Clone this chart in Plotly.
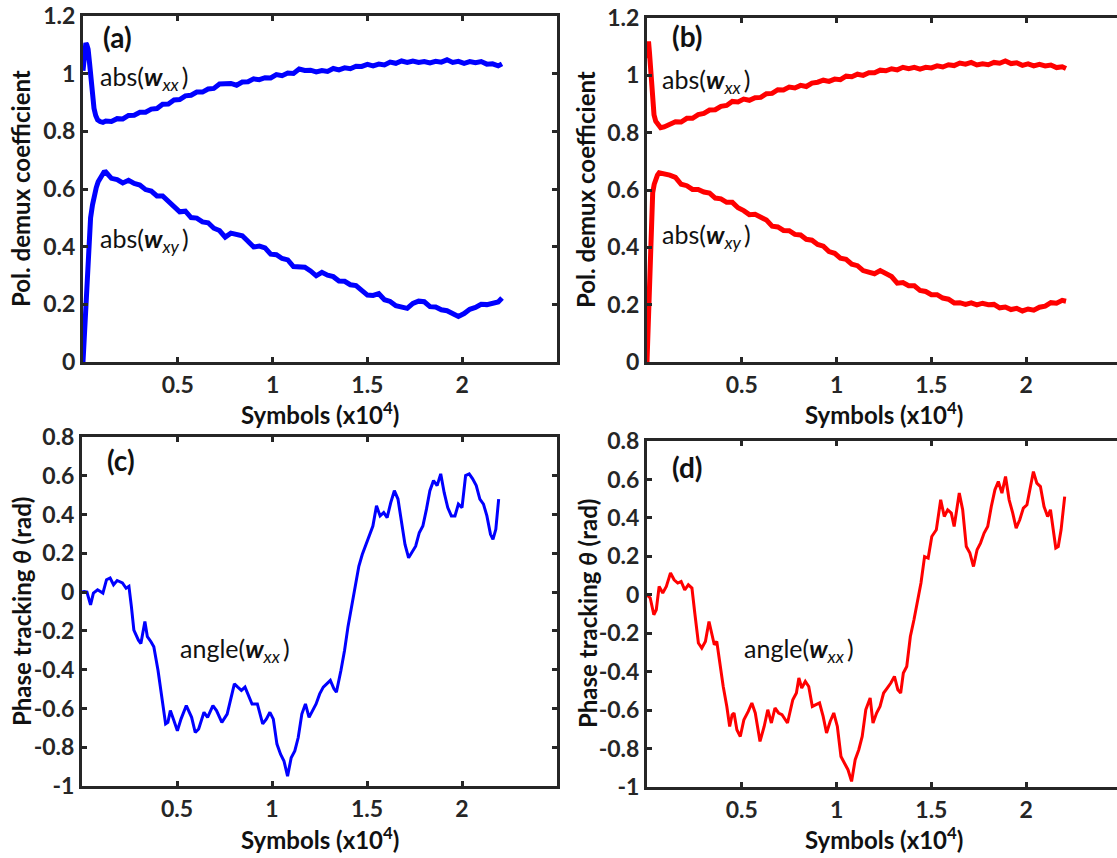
import plotly.graph_objects as go

W, H = 1117, 858
FONT = "Lato"
INK = "#262626"
BLUE = "#0000FF"
RED = "#FF0000"

# ---------------- panel (a): blue equaliser, |w_xx| and |w_xy| ----------------
a_xx_head_x = [0, 0.005, 0.01, 0.015, 0.02, 0.027, 0.034, 0.042, 0.05, 0.058, 0.067, 0.077, 0.09, 0.105]
a_xx_head_y = [1.01, 1.06, 1.095, 1.106, 1.1, 1.085, 1.04, 0.97, 0.915, 0.88, 0.855, 0.84, 0.834, 0.831]
a_xy_head_x = [0, 0.005, 0.01, 0.015, 0.02, 0.03, 0.04, 0.05, 0.06, 0.07, 0.08, 0.09, 0.1, 0.11]
a_xy_head_y = [0.0, 0.07, 0.15, 0.22, 0.29, 0.42, 0.50, 0.545, 0.58, 0.605, 0.625, 0.638, 0.648, 0.658]

# common sample positions (x10^4 symbols) after the start-up transient
tail_x = [
    0.12, 0.15, 0.18, 0.21, 0.24, 0.27, 0.30, 0.33, 0.36, 0.39,
    0.42, 0.45, 0.48, 0.51, 0.54, 0.57, 0.60, 0.63, 0.66, 0.69,
    0.72, 0.75, 0.78, 0.81, 0.84, 0.87, 0.90, 0.93, 0.96, 0.99,
    1.02, 1.05, 1.08, 1.11, 1.14, 1.17, 1.20, 1.23, 1.26, 1.29,
    1.32, 1.35, 1.38, 1.41, 1.44, 1.47, 1.50, 1.53, 1.56, 1.59,
    1.62, 1.65, 1.68, 1.71, 1.74, 1.77, 1.80, 1.83, 1.86, 1.89,
    1.92, 1.95, 1.98, 2.01, 2.04, 2.07, 2.10, 2.13, 2.16, 2.19,
    2.21,
]
a_xx_tail = [
    0.836, 0.834, 0.844, 0.843, 0.855, 0.856, 0.866, 0.866, 0.877, 0.879,
    0.894, 0.895, 0.909, 0.910, 0.923, 0.925, 0.936, 0.936, 0.947, 0.949,
    0.964, 0.965, 0.966, 0.960, 0.971, 0.972, 0.982, 0.979, 0.986, 0.985,
    0.997, 0.993, 1.002, 1.001, 1.016, 1.011, 1.012, 1.006, 1.011, 1.008,
    1.018, 1.013, 1.020, 1.017, 1.026, 1.025, 1.032, 1.027, 1.033, 1.030,
    1.040, 1.036, 1.044, 1.039, 1.044, 1.039, 1.042, 1.037, 1.043, 1.040,
    1.048, 1.039, 1.043, 1.036, 1.042, 1.038, 1.042, 1.033, 1.034, 1.027,
    1.034,
]
a_xy_tail = [
    0.659, 0.637, 0.633, 0.621, 0.630, 0.619, 0.614, 0.598, 0.593, 0.576,
    0.576, 0.557, 0.544, 0.521, 0.523, 0.501, 0.499, 0.486, 0.483, 0.464,
    0.456, 0.433, 0.447, 0.444, 0.438, 0.419, 0.399, 0.402, 0.396, 0.374,
    0.372, 0.359, 0.354, 0.331, 0.329, 0.329, 0.316, 0.299, 0.311, 0.301,
    0.296, 0.281, 0.280, 0.268, 0.265, 0.249, 0.232, 0.231, 0.237, 0.216,
    0.210, 0.195, 0.190, 0.186, 0.203, 0.211, 0.209, 0.192, 0.191, 0.181,
    0.178, 0.167, 0.158, 0.168, 0.183, 0.189, 0.200, 0.199, 0.204, 0.208,
    0.222,
]

# ---------------- panel (b): red equaliser, |w_xx| and |w_xy| ----------------
b_xx_head_x = [0, 0.004, 0.008, 0.013, 0.018, 0.024, 0.03, 0.037, 0.046, 0.058, 0.072, 0.09, 0.105]
b_xx_head_y = [1.06, 1.1, 1.118, 1.08, 1.02, 0.95, 0.895, 0.862, 0.84, 0.826, 0.817, 0.82, 0.824]
b_xy_head_x = [0, 0.005, 0.01, 0.017, 0.024, 0.03, 0.038, 0.045, 0.055, 0.064, 0.08, 0.1]
b_xy_head_y = [0.0, 0.1, 0.25, 0.45, 0.55, 0.59, 0.62, 0.638, 0.652, 0.66, 0.658, 0.656]
b_xx_tail = [
    0.827, 0.838, 0.837, 0.850, 0.850, 0.863, 0.867, 0.879, 0.880, 0.892,
    0.895, 0.909, 0.907, 0.917, 0.913, 0.922, 0.923, 0.936, 0.937, 0.950,
    0.949, 0.959, 0.956, 0.965, 0.961, 0.973, 0.976, 0.983, 0.979, 0.987,
    0.985, 0.997, 0.995, 1.004, 1.000, 1.009, 1.009, 1.018, 1.016, 1.023,
    1.019, 1.028, 1.023, 1.028, 1.022, 1.028, 1.026, 1.033, 1.029, 1.037,
    1.034, 1.043, 1.039, 1.045, 1.036, 1.040, 1.037, 1.045, 1.042, 1.050,
    1.041, 1.044, 1.035, 1.040, 1.033, 1.038, 1.033, 1.036, 1.027, 1.030,
    1.024,
]
b_xy_tail = [
    0.652, 0.644, 0.620, 0.615, 0.602, 0.602, 0.593, 0.589, 0.572, 0.569,
    0.557, 0.557, 0.538, 0.528, 0.514, 0.515, 0.505, 0.495, 0.474, 0.471,
    0.459, 0.458, 0.445, 0.443, 0.428, 0.425, 0.410, 0.404, 0.385, 0.379,
    0.362, 0.358, 0.341, 0.336, 0.319, 0.315, 0.308, 0.319, 0.310, 0.298,
    0.275, 0.277, 0.266, 0.266, 0.250, 0.246, 0.235, 0.235, 0.223, 0.219,
    0.206, 0.207, 0.201, 0.206, 0.199, 0.205, 0.200, 0.201, 0.189, 0.192,
    0.183, 0.187, 0.178, 0.185, 0.181, 0.191, 0.195, 0.207, 0.205, 0.215,
    0.212,
]

# ---------------- panel (c): blue phase tracking angle(w_xx) ----------------
c_x = [
    0, 0.011, 0.026, 0.045, 0.06, 0.082, 0.11, 0.129, 0.148, 0.166,
    0.185, 0.213, 0.232, 0.247, 0.26, 0.273, 0.297, 0.31, 0.331, 0.344,
    0.363, 0.378, 0.40, 0.419, 0.44, 0.452, 0.465, 0.484, 0.502, 0.521,
    0.549, 0.577, 0.596, 0.614, 0.642, 0.661, 0.689, 0.708, 0.736, 0.764,
    0.783, 0.802, 0.82, 0.839, 0.858, 0.877, 0.895, 0.923, 0.951, 0.97,
    0.989, 1.007, 1.026, 1.045, 1.063, 1.082, 1.101, 1.12, 1.138, 1.157,
    1.176, 1.195, 1.213, 1.232, 1.251, 1.27, 1.288, 1.307, 1.326, 1.339,
    1.363, 1.382, 1.40, 1.419, 1.438, 1.457, 1.475, 1.494, 1.513, 1.531,
    1.55, 1.569, 1.588, 1.606, 1.625, 1.644, 1.663, 1.681, 1.70, 1.719,
    1.738, 1.756, 1.775, 1.794, 1.813, 1.831, 1.85, 1.869, 1.888, 1.906,
    1.925, 1.944, 1.963, 1.981, 2.0, 2.019, 2.038, 2.056, 2.075, 2.094,
    2.113, 2.131, 2.15, 2.163, 2.178, 2.193,
]
c_y = [
    0.0, 0.003, 0.0, -0.066, -0.005, 0.012, -0.005, 0.064, 0.073, 0.038,
    0.06, 0.047, 0.02, 0.03, -0.075, -0.196, -0.248, -0.265, -0.152, -0.23,
    -0.256, -0.282, -0.403, -0.525, -0.68, -0.672, -0.611, -0.663, -0.715, -0.655,
    -0.585, -0.646, -0.724, -0.706, -0.62, -0.646, -0.585, -0.611, -0.672, -0.629,
    -0.542, -0.473, -0.49, -0.507, -0.49, -0.533, -0.577, -0.577, -0.68, -0.655,
    -0.62, -0.655, -0.784, -0.836, -0.871, -0.949, -0.854, -0.819, -0.75, -0.629,
    -0.577, -0.646, -0.611, -0.577, -0.525, -0.49, -0.473, -0.455, -0.499, -0.516,
    -0.403, -0.30, -0.178, -0.074, 0.012, 0.133, 0.194, 0.246, 0.298, 0.341,
    0.445, 0.393, 0.41, 0.384, 0.462, 0.523, 0.48, 0.358, 0.246, 0.177,
    0.211, 0.237, 0.306, 0.341, 0.428, 0.523, 0.575, 0.549, 0.61, 0.514,
    0.436, 0.393, 0.393, 0.454, 0.436, 0.601, 0.61, 0.584, 0.549, 0.48,
    0.454, 0.393, 0.298, 0.272, 0.324, 0.48,
]

# ---------------- panel (d): red phase tracking angle(w_xx) ----------------
d_x = [
    0, 0.017, 0.036, 0.049, 0.064, 0.083, 0.102, 0.124, 0.143, 0.162,
    0.18, 0.199, 0.218, 0.237, 0.252, 0.271, 0.289, 0.308, 0.327, 0.342,
    0.355, 0.368, 0.383, 0.402, 0.421, 0.436, 0.449, 0.459, 0.474, 0.492,
    0.511, 0.534, 0.553, 0.571, 0.596, 0.618, 0.637, 0.656, 0.675, 0.694,
    0.712, 0.741, 0.769, 0.788, 0.801, 0.816, 0.835, 0.853, 0.872, 0.891,
    0.91, 0.929, 0.947, 0.966, 0.985, 1.004, 1.023, 1.041, 1.06, 1.079,
    1.098, 1.117, 1.135, 1.154, 1.177, 1.192, 1.211, 1.229, 1.248, 1.267,
    1.286, 1.305, 1.323, 1.338, 1.352, 1.37, 1.389, 1.408, 1.427, 1.445,
    1.464, 1.483, 1.502, 1.526, 1.549, 1.568, 1.586, 1.605, 1.62, 1.633,
    1.647, 1.665, 1.684, 1.703, 1.722, 1.741, 1.759, 1.778, 1.797, 1.816,
    1.835, 1.853, 1.872, 1.891, 1.91, 1.929, 1.947, 1.966, 1.985, 2.004,
    2.023, 2.038, 2.056, 2.075, 2.094, 2.113, 2.128, 2.141, 2.156, 2.169,
    2.184, 2.203,
]
d_y = [
    0.0, -0.017, -0.104, -0.078, 0.043, 0.009, 0.043, 0.113, 0.078, 0.061,
    0.069, 0.026, 0.052, 0.035, -0.095, -0.251, -0.277, -0.243, -0.139, -0.199,
    -0.26, -0.243, -0.355, -0.477, -0.581, -0.685, -0.624, -0.615, -0.702, -0.737,
    -0.65, -0.607, -0.563, -0.615, -0.763, -0.685, -0.598, -0.667, -0.589, -0.615,
    -0.624, -0.667, -0.546, -0.511, -0.433, -0.485, -0.451, -0.477, -0.581, -0.572,
    -0.563, -0.633, -0.719, -0.659, -0.615, -0.685, -0.841, -0.875, -0.91, -0.971,
    -0.858, -0.806, -0.737, -0.598, -0.537, -0.667, -0.615, -0.581, -0.511, -0.485,
    -0.459, -0.425, -0.494, -0.511, -0.407, -0.373, -0.217, -0.13, -0.026, 0.061,
    0.199, 0.191, 0.303, 0.338, 0.494, 0.407, 0.442, 0.425, 0.355, 0.442,
    0.529, 0.442, 0.251, 0.217, 0.147, 0.234, 0.269, 0.321, 0.355, 0.459,
    0.546, 0.589, 0.529, 0.615, 0.494, 0.425, 0.347, 0.39, 0.451, 0.468,
    0.563, 0.641, 0.581, 0.563, 0.459, 0.407, 0.442, 0.355, 0.243, 0.251,
    0.338, 0.511,
]

# axis ticks
x_ticks = [0.5, 1, 1.5, 2]
x_ticktext = ["0.5", "1", "1.5", "2"]
top_ticks = [0, 0.2, 0.4, 0.6, 0.8, 1.0, 1.2]
top_ticktext = ["0", "0.2", "0.4", "0.6", "0.8", "1", "1.2"]
bot_ticks = [-1, -0.8, -0.6, -0.4, -0.2, 0, 0.2, 0.4, 0.6, 0.8]
bot_ticktext = ["-1", "-0.8", "-0.6", "-0.4", "-0.2", "0", "0.2", "0.4", "0.6", "0.8"]


def px_x(p):
    return p / W


def px_y(p):
    return 1 - p / H


fig = go.Figure()

line_top = 5.0
line_bot = 3.0
fig.add_trace(go.Scatter(x=a_xx_head_x + tail_x, y=a_xx_head_y + a_xx_tail, mode="lines",
                         line=dict(color=BLUE, width=line_top), xaxis="x", yaxis="y"))
fig.add_trace(go.Scatter(x=a_xy_head_x + tail_x, y=a_xy_head_y + a_xy_tail, mode="lines",
                         line=dict(color=BLUE, width=line_top), xaxis="x", yaxis="y"))
fig.add_trace(go.Scatter(x=b_xx_head_x + tail_x, y=b_xx_head_y + b_xx_tail, mode="lines",
                         line=dict(color=RED, width=line_top), xaxis="x2", yaxis="y2"))
fig.add_trace(go.Scatter(x=b_xy_head_x + tail_x, y=b_xy_head_y + b_xy_tail, mode="lines",
                         line=dict(color=RED, width=line_top), xaxis="x2", yaxis="y2"))
fig.add_trace(go.Scatter(x=c_x, y=c_y, mode="lines",
                         line=dict(color=BLUE, width=line_bot), xaxis="x3", yaxis="y3"))
fig.add_trace(go.Scatter(x=d_x, y=d_y, mode="lines",
                         line=dict(color=RED, width=line_bot), xaxis="x4", yaxis="y4"))

tickfont = dict(family=FONT, size=23, color=INK, weight="bold")


def frame(mirror="ticks", **kw):
    d = dict(showline=True, linecolor=INK, linewidth=3, mirror=mirror,
             ticks="inside", ticklen=5, tickwidth=2.5, tickcolor=INK,
             showgrid=False, zeroline=False, tickfont=tickfont, fixedrange=True,
             automargin=False)
    d.update(kw)
    return d


def right_ticks(over, anchor, rng, vals):
    # tick marks only on the right edge (the frame line itself falls outside the figure)
    return dict(overlaying=over, side="right", anchor=anchor, range=rng, showline=False,
                ticks="inside", ticklen=5, tickwidth=2.5, tickcolor=INK, automargin=False,
                tickvals=vals, showticklabels=False, showgrid=False, zeroline=False)


# panel frames (pixel boxes of the four axes)
A = dict(l=83, r=557, t=16, b=362)
B = dict(l=647, r=1117, t=18, b=362)
C = dict(l=82, r=557, t=437, b=786)
D = dict(l=647, r=1117, t=441, b=787)
scale_b = (557 - 83) / 2.5  # px per 10^4 symbols

fig.update_layout(
    width=W, height=H,
    margin=dict(l=0, r=0, t=0, b=0, autoexpand=False),
    paper_bgcolor="white", plot_bgcolor="white",
    showlegend=False,
    xaxis=frame(domain=[px_x(A["l"]), px_x(A["r"])], range=[0, 2.5], anchor="y",
                tickvals=x_ticks, ticktext=x_ticktext),
    yaxis=frame(domain=[px_y(A["b"]), px_y(A["t"])], range=[0, 1.2], anchor="x",
                tickvals=top_ticks, ticktext=top_ticktext),
    xaxis2=frame(domain=[px_x(B["l"]), 1.0], range=[0, (B["r"] - B["l"]) / scale_b], anchor="y2",
                 tickvals=x_ticks, ticktext=x_ticktext),
    yaxis2=frame(mirror=False, domain=[px_y(B["b"]), px_y(B["t"])], range=[0, 1.2], anchor="x2",
                 tickvals=top_ticks, ticktext=top_ticktext),
    yaxis5=right_ticks("y2", "x2", [0, 1.2], top_ticks),
    xaxis3=frame(domain=[px_x(C["l"]), px_x(C["r"])], range=[0, 2.5], anchor="y3",
                 tickvals=x_ticks, ticktext=x_ticktext),
    yaxis3=frame(domain=[px_y(C["b"]), px_y(C["t"])], range=[-1, 0.8], anchor="x3",
                 tickvals=bot_ticks, ticktext=bot_ticktext),
    xaxis4=frame(domain=[px_x(D["l"]), 1.0], range=[0, (D["r"] - D["l"]) / scale_b], anchor="y4",
                 tickvals=x_ticks, ticktext=x_ticktext),
    yaxis4=frame(mirror=False, domain=[px_y(D["b"]), px_y(D["t"])], range=[-1, 0.8], anchor="x4",
                 tickvals=bot_ticks, ticktext=bot_ticktext),
    yaxis6=right_ticks("y4", "x4", [-1, 0.8], bot_ticks),
)

title_font = dict(family=FONT, size=24, color="#111111", weight="bold")
label_font = dict(family=FONT, size=25, color="#111111")
panel_font = dict(family=FONT, size=28, color="#111111", weight="bold")

ann = []
# axis titles
for cx, cy in [((A["l"] + A["r"]) / 2, 413), ((B["l"] + 1120) / 2, 413),
               ((C["l"] + C["r"]) / 2, 838), ((D["l"] + 1120) / 2, 838)]:
    ann.append(dict(x=px_x(cx), y=px_y(cy), xref="paper", yref="paper", showarrow=False,
                    text="Symbols (x10<sup>4</sup>)", font=title_font,
                    xanchor="center", yanchor="middle"))
for cx, cy in [(20, 189), (586, 190)]:
    ann.append(dict(x=px_x(cx), y=px_y(cy), xref="paper", yref="paper", showarrow=False,
                    text="Pol. demux coefficient", textangle=-90, font=title_font,
                    xanchor="center", yanchor="middle"))
for cx, cy in [(21, 612), (587, 614)]:
    ann.append(dict(x=px_x(cx), y=px_y(cy), xref="paper", yref="paper", showarrow=False,
                    text="Phase tracking <i>θ</i> (rad)", textangle=-90, font=title_font,
                    xanchor="center", yanchor="middle"))

# panel letters
for ax, ay, xr, yr, t in [(0.18, 1.128, "x", "y", "(a)"), (0.21, 1.136, "x2", "y2", "(b)"),
                          (0.205, 0.679, "x3", "y3", "(c)"), (0.215, 0.667, "x4", "y4", "(d)")]:
    ann.append(dict(x=ax, y=ay, xref=xr, yref=yr, showarrow=False, text=t, font=panel_font,
                    xanchor="center", yanchor="middle"))

W_XX = "<b><i>w</i></b><sub><i>xx</i></sub>\u2009"
W_XY = "<b><i>w</i></b><sub><i>xy</i></sub>\u2009"
for ax, ay, xr, yr, t in [(0.08, 0.985, "x", "y", "abs(" + W_XX + ")"),
                          (0.08, 0.422, "x", "y", "abs(" + W_XY + ")"),
                          (0.07, 0.98, "x2", "y2", "abs(" + W_XX + ")"),
                          (0.07, 0.44, "x2", "y2", "abs(" + W_XY + ")"),
                          (0.504, -0.30, "x3", "y3", "angle(" + W_XX + ")"),
                          (0.502, -0.289, "x4", "y4", "angle(" + W_XX + ")")]:
    ann.append(dict(x=ax, y=ay, xref=xr, yref=yr, showarrow=False, text=t, font=label_font,
                    xanchor="left", yanchor="middle"))

fig.update_layout(annotations=ann)
fig.write_html("out.html")
